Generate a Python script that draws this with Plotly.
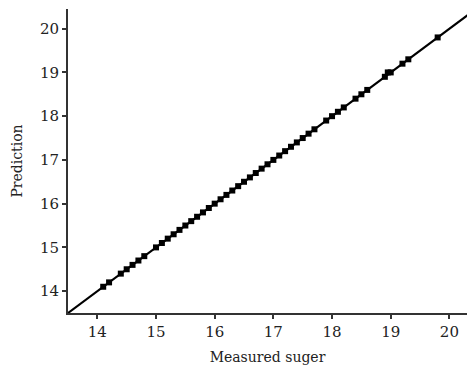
import plotly.graph_objects as go

measured = [14.1, 14.2, 14.4, 14.5, 14.6, 14.7, 14.8, 15.0, 15.1, 15.2, 15.3, 15.4,
            15.5, 15.6, 15.7, 15.8, 15.9, 16.0, 16.1, 16.2, 16.3, 16.4, 16.5, 16.6,
            16.7, 16.8, 16.9, 17.0, 17.1, 17.2, 17.3, 17.4, 17.5, 17.6, 17.7, 17.9,
            18.0, 18.1, 18.2, 18.4, 18.5, 18.6, 18.9, 18.95, 19.0, 19.2, 19.3, 19.8]
predicted = [14.1, 14.2, 14.4, 14.5, 14.6, 14.7, 14.8, 15.0, 15.1, 15.2, 15.3, 15.4,
             15.5, 15.6, 15.7, 15.8, 15.9, 16.0, 16.1, 16.2, 16.3, 16.4, 16.5, 16.6,
             16.7, 16.8, 16.9, 17.0, 17.1, 17.2, 17.3, 17.4, 17.5, 17.6, 17.7, 17.9,
             18.0, 18.1, 18.2, 18.4, 18.5, 18.6, 18.9, 19.0, 19.0, 19.2, 19.3, 19.8]
fit_x = [13.5, 20.5]
fit_y = [13.5, 20.5]
x_ticks = [14, 15, 16, 17, 18, 19, 20]
y_ticks = [14, 15, 16, 17, 18, 19, 20]

font_family = "DejaVu Serif, Liberation Serif, serif"

fig = go.Figure()
fig.add_trace(go.Scatter(x=fit_x, y=fit_y, mode="lines",
                         line=dict(color="black", width=2.2), showlegend=False))
fig.add_trace(go.Scatter(x=measured, y=predicted, mode="markers",
                         marker=dict(symbol="square", size=6, color="black"),
                         showlegend=False))

axis_common = dict(showgrid=False, zeroline=False, showline=True, linecolor="#333",
                   linewidth=2, ticks="outside", ticklen=4, tickwidth=1.5,
                   tickcolor="#333", tickfont=dict(family=font_family, size=15, color="#222"))

fig.update_layout(
    width=467, height=369,
    margin=dict(l=68, r=0, t=9, b=56),
    paper_bgcolor="white", plot_bgcolor="white",
    xaxis=dict(range=[13.5, 20.3], tickvals=x_ticks,
               title=dict(text="Measured suger", font=dict(family=font_family, size=14, color="#222"),
                          standoff=12),
               **axis_common),
    yaxis=dict(range=[13.5, 20.45], tickvals=y_ticks,
               title=dict(text="Prediction", font=dict(family=font_family, size=14, color="#222"),
                          standoff=14),
               **axis_common),
)

fig.write_html("out.html")
